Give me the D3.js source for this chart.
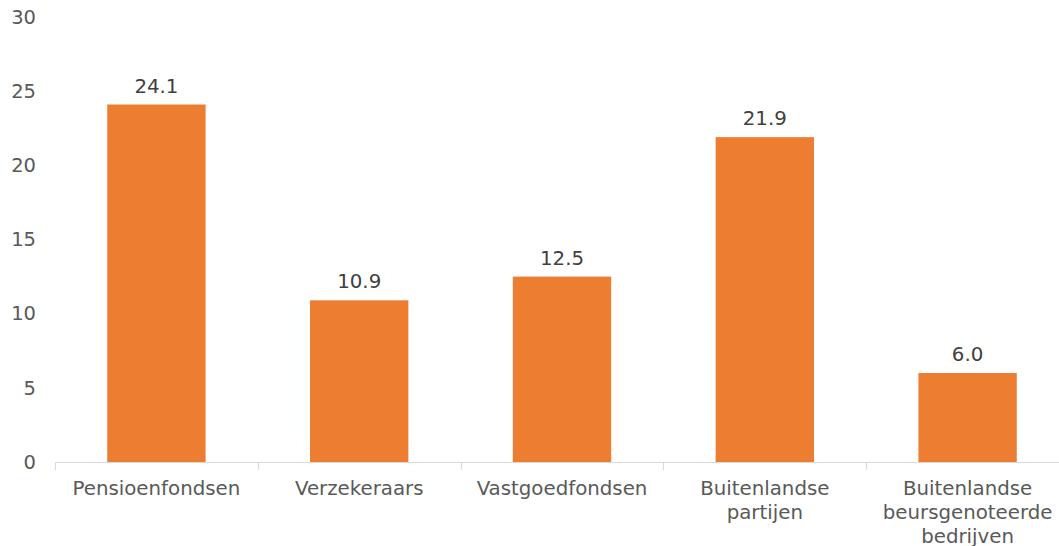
<!DOCTYPE html>
<html>
<head>
<meta charset="utf-8">
<script src="https://cdn.jsdelivr.net/npm/d3@7"></script>
<style>
  body { margin: 0; background: #fff; }
  svg { display: block; font-family: "DejaVu Sans", Verdana, sans-serif; }
</style>
</head>
<body>
<svg id="chart" width="1059" height="546"></svg>
<script>
const categories = [
  ['Pensioenfondsen'],
  ['Verzekeraars'],
  ['Vastgoedfondsen'],
  ['Buitenlandse', 'partijen'],
  ['Buitenlandse', 'beursgenoteerde', 'bedrijven']
];
const values = [24.1, 10.9, 12.5, 21.9, 6.0];
const yTicks = [0, 5, 10, 15, 20, 25, 30];

const colors = { bar: '#ED7D31', axis: '#D9D9D9', text: '#595959', label: '#404040' };

const svg = d3.select('#chart');
const margin = { left: 55, top: 17, bottom: 84 };
const step = 202.8;
const height = 546;
const fontSize = 19.8;

const x = d3.scaleBand()
  .domain(d3.range(categories.length))
  .range([margin.left, margin.left + step * categories.length])
  .paddingInner(0.515)
  .paddingOuter(0.2575);

const y = d3.scaleLinear()
  .domain([0, 30])
  .range([height - margin.bottom, margin.top]);

// y tick labels (no axis line, no gridlines)
svg.append('g')
  .selectAll('text')
  .data(yTicks)
  .join('text')
  .attr('x', 36)
  .attr('y', d => y(d))
  .attr('dy', '0.35em')
  .attr('text-anchor', 'end')
  .attr('font-size', 19.5)
  .attr('fill', colors.text)
  .text(d => d);

// bars
svg.append('g')
  .selectAll('rect')
  .data(values)
  .join('rect')
  .attr('x', (d, i) => x(i))
  .attr('width', x.bandwidth())
  .attr('y', d => y(d))
  .attr('height', d => y(0) - y(d))
  .attr('fill', colors.bar);

// value labels
svg.append('g')
  .selectAll('text')
  .data(values)
  .join('text')
  .attr('x', (d, i) => x(i) + x.bandwidth() / 2)
  .attr('y', d => y(d) - 12)
  .attr('text-anchor', 'middle')
  .attr('font-size', fontSize)
  .attr('fill', colors.label)
  .text(d => d.toFixed(1));

// x axis line and category separators
const axis = svg.append('g');
axis.append('line')
  .attr('x1', margin.left).attr('x2', 1059)
  .attr('y1', y(0) + 0.5).attr('y2', y(0) + 0.5)
  .attr('stroke', colors.axis).attr('stroke-width', 1);
axis.selectAll('line.tick')
  .data(d3.range(categories.length + 1))
  .join('line')
  .attr('class', 'tick')
  .attr('x1', i => Math.round(margin.left + i * step) + 0.5)
  .attr('x2', i => Math.round(margin.left + i * step) + 0.5)
  .attr('y1', y(0)).attr('y2', y(0) + 8)
  .attr('stroke', colors.axis);

// category labels
const catLabels = svg.append('g')
  .selectAll('text')
  .data(categories)
  .join('text')
  .attr('x', (d, i) => x(i) + x.bandwidth() / 2)
  .attr('y', y(0) + 33)
  .attr('text-anchor', 'middle')
  .attr('font-size', fontSize)
  .attr('fill', colors.text);
catLabels.selectAll('tspan')
  .data(d => d)
  .join('tspan')
  .attr('x', function () { return this.parentNode.getAttribute('x'); })
  .attr('dy', (d, i) => i === 0 ? 0 : 24)
  .text(d => d);
</script>
</body>
</html>
